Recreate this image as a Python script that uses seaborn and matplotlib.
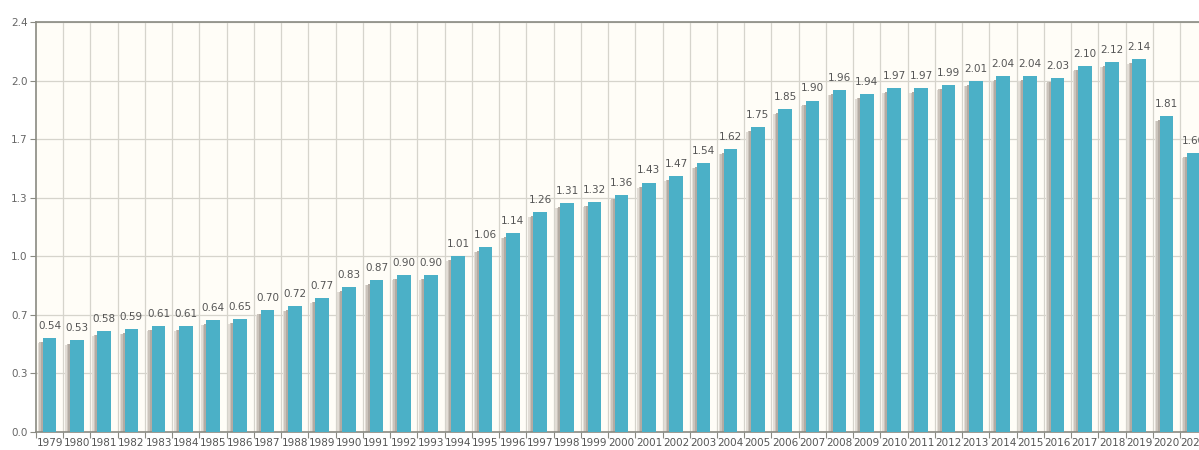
import matplotlib
matplotlib.use("Agg")
import matplotlib.pyplot as plt
import matplotlib.transforms as mtransforms
import seaborn as sns
import pandas as pd
import numpy as np

years = [str(y) for y in range(1979, 2022)]
values = [0.54, 0.53, 0.58, 0.59, 0.61, 0.61, 0.64, 0.65, 0.70, 0.72,
          0.77, 0.83, 0.87, 0.90, 0.90, 1.01, 1.06, 1.14, 1.26, 1.31,
          1.32, 1.36, 1.43, 1.47, 1.54, 1.62, 1.75, 1.85, 1.90, 1.96,
          1.94, 1.97, 1.97, 1.99, 2.01, 2.04, 2.04, 2.03, 2.10, 2.12,
          2.14, 1.81, 1.60]
y_max = 2.35
y_ticks = [i * y_max / 7 for i in range(8)]
y_tick_labels = ["0.0", "0.3", "0.7", "1.0", "1.3", "1.7", "2.0", "2.4"]

df = pd.DataFrame({"year": years, "value": values})

sns.set_style("white")
plt.rcParams["font.family"] = ["DejaVu Sans"]

fig = plt.figure(figsize=(11.99, 4.5), dpi=100)
W, H = 1199, 450
left_px, right_px, top_px, bottom_px = 36, 36 + 43 * 27.24, 22, 432
ax = fig.add_axes([left_px / W, 1 - bottom_px / H,
                   (right_px - left_px) / W, (bottom_px - top_px) / H])
ax.set_facecolor("#fffdf7")

# shadow layers (offset left and down)
shadow_specs = [(-5, -5, "#e2ddd6"), (-3.5, -4.5, "#cbc4bc"), (-2, -4, "#b3aba3")]
for dx, dy, col in shadow_specs:
    n_before = len(ax.patches)
    sns.barplot(data=df, x="year", y="value", color=col, width=0.5,
                saturation=1, ax=ax, zorder=2, linewidth=0, edgecolor="none")
    off = mtransforms.ScaledTranslation(dx / 100, dy / 100, fig.dpi_scale_trans)
    for p in ax.patches[n_before:]:
        p.set_transform(ax.transData + off)

sns.barplot(data=df, x="year", y="value", color="#4bb0c7", width=0.5,
            saturation=1, ax=ax, zorder=3, linewidth=0, edgecolor="none")

for i, v in enumerate(values):
    ax.annotate(f"{v:.2f}", (i, v), xytext=(0, 6.5), textcoords="offset points",
                ha="center", va="baseline", fontsize=7.5, color="#555555",
                zorder=4, annotation_clip=False)

ax.set_xlim(-0.5, len(years) - 0.5)
ax.set_ylim(0, y_max)
ax.set_yticks(y_ticks)
ax.set_yticklabels(y_tick_labels)
ax.set_xticks(range(len(years)))
ax.set_xticklabels(years)
ax.set_xlabel("")
ax.set_ylabel("")

# grid: horizontal at ticks, vertical at category boundaries
for t in y_ticks[1:]:
    ax.axhline(t, color="#d6d4cc", lw=0.9, zorder=1)
for b in np.arange(0.5, len(years) - 0.5, 1):
    ax.axvline(b, color="#d6d4cc", lw=0.9, zorder=1)

for s in ["left", "bottom", "top"]:
    ax.spines[s].set_visible(True)
    ax.spines[s].set_color("#8a8a82")
    ax.spines[s].set_linewidth(1.2)
ax.spines["right"].set_visible(False)

ax.tick_params(axis="y", length=4, width=0.8, color="#8a8a82",
               labelsize=7.5, labelcolor="#666666", pad=2, left=True)
ax.tick_params(axis="x", length=0, labelsize=7.5, labelcolor="#555555", pad=4)
ax.set_xticks(np.arange(-0.5, len(years), 1), minor=True)
ax.tick_params(axis="x", which="minor", length=4, width=0.8, color="#8a8a82", bottom=True)

fig.savefig("out.png", dpi=100)
